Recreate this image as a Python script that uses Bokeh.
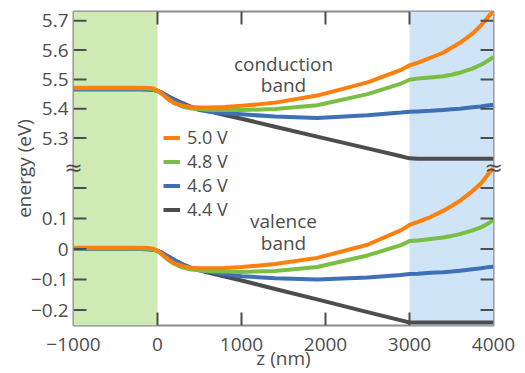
from bokeh.plotting import figure
from bokeh.models import (Range1d, FixedTicker, Legend, LegendItem, BoxAnnotation, Label,
                          LinearAxis)
from bokeh.embed import file_html
from bokeh.resources import INLINE

# ---------------- data ----------------
z_nm = [-1000, -200, -100, -50, 0, 50, 100, 150, 200, 300, 400, 500, 600, 800,
        1000, 1400, 1900, 2500, 2900, 3000, 3100, 3250, 3400, 3500, 3600, 3750, 3850, 3900, 3950, 4000]

voltages = ["5.0 V", "4.8 V", "4.6 V", "4.4 V"]

# conduction band (eV)
cb_50 = [5.472, 5.472, 5.471, 5.469, 5.462, 5.452, 5.440, 5.429, 5.420, 5.410, 5.406, 5.404, 5.404, 5.406,
         5.410, 5.421, 5.445, 5.490, 5.533, 5.548, 5.557, 5.574, 5.591, 5.608, 5.625, 5.656, 5.684, 5.700, 5.718, 5.732]
cb_48 = [5.470, 5.470, 5.469, 5.467, 5.461, 5.451, 5.439, 5.428, 5.419, 5.407, 5.401, 5.399, 5.397, 5.396,
         5.396, 5.399, 5.412, 5.450, 5.486, 5.499, 5.503, 5.507, 5.511, 5.516, 5.523, 5.537, 5.550, 5.558, 5.567, 5.576]
cb_46 = [5.467, 5.467, 5.466, 5.465, 5.461, 5.455, 5.447, 5.438, 5.430, 5.416, 5.404, 5.396, 5.391, 5.385,
         5.381, 5.374, 5.369, 5.378, 5.387, 5.390, 5.391, 5.393, 5.396, 5.398, 5.400, 5.405, 5.408, 5.410, 5.412, 5.414]
cb_44 = [5.467, 5.467, 5.466, 5.465, 5.461, 5.455, 5.447, 5.439, 5.432, 5.419, 5.407, 5.399, 5.392, 5.379,
         5.366, 5.339, 5.305, 5.265, 5.238, 5.231, 5.230, 5.230, 5.230, 5.230, 5.230, 5.230, 5.230, 5.230, 5.230, 5.230]

# valence band (eV)
vb_50 = [0.004, 0.004, 0.003, 0.001, -0.006, -0.016, -0.028, -0.038, -0.046, -0.056, -0.061, -0.063, -0.063, -0.062,
         -0.059, -0.049, -0.029, 0.014, 0.062, 0.079, 0.089, 0.105, 0.125, 0.141, 0.158, 0.190, 0.215, 0.232, 0.251, 0.264]
vb_48 = [0.002, 0.002, 0.001, -0.001, -0.007, -0.017, -0.029, -0.040, -0.049, -0.061, -0.067, -0.070, -0.072, -0.074,
         -0.075, -0.072, -0.059, -0.021, 0.013, 0.026, 0.028, 0.033, 0.038, 0.043, 0.049, 0.061, 0.071, 0.078, 0.086, 0.096]
vb_46 = [0.000, 0.000, -0.001, -0.002, -0.006, -0.012, -0.020, -0.029, -0.037, -0.051, -0.062, -0.069, -0.074, -0.083,
         -0.089, -0.096, -0.100, -0.093, -0.085, -0.082, -0.081, -0.078, -0.076, -0.074, -0.071, -0.066, -0.063, -0.061, -0.059, -0.058]
vb_44 = [0.000, 0.000, -0.001, -0.002, -0.006, -0.012, -0.020, -0.028, -0.036, -0.050, -0.062, -0.070, -0.077, -0.090,
         -0.103, -0.131, -0.165, -0.207, -0.234, -0.241, -0.241, -0.241, -0.241, -0.241, -0.241, -0.241, -0.241, -0.241, -0.241, -0.241]

x_ticks = [-1000, 0, 1000, 2000, 3000, 4000]
x_tick_labels = ["\u22121000", "0", "1000", "2000", "3000", "4000"]
vb_ticks = [-0.2, -0.1, 0.0, 0.1, 0.2]
vb_tick_labels = ["\u22120.2", "\u22120.1", "0", "0.1", ""]
cb_ticks = [5.3, 5.4, 5.5, 5.6, 5.7]
cb_tick_labels = ["5.3", "5.4", "5.5", "5.6", "5.7"]

region_left = [-1000, 3000]
region_right = [0, 4000]

# ---------------- style / layout ----------------
FONT = "Open Sans"
TXT = "#4d4d4d"
FRAME = "#8c8c8c"
colors = ["#ff7f0e", "#7abf43", "#3f6fb5", "#4d4d4d"]
region_colors = ["#d0eab5", "#cfe4f7"]

W, H = 525, 373
BL, BR, BT, BB = 73, 32, 11, 47
FRAME_W, FRAME_H = W - BL - BR, H - BT - BB
TICK_PX = 13

X_RANGE = (-1000, 4000)
Y_VB = (-0.2507, 0.7788)
Y_CB = (4.6613, 5.7316)
BREAK_VB = 0.268

tick_dx = TICK_PX * (X_RANGE[1] - X_RANGE[0]) / FRAME_W
tick_dy_vb = TICK_PX * (Y_VB[1] - Y_VB[0]) / FRAME_H


def cb_to_vb(v):
    return Y_VB[0] + (v - Y_CB[0]) / (Y_CB[1] - Y_CB[0]) * (Y_VB[1] - Y_VB[0])


p = figure(width=W, height=H, x_range=Range1d(*X_RANGE), y_range=Range1d(*Y_VB),
           output_backend="svg", toolbar_location=None,
           min_border_left=BL, min_border_right=BR, min_border_top=BT, min_border_bottom=BB)
p.extra_y_ranges = {"cb": Range1d(*Y_CB)}
p.grid.visible = False
p.outline_line_color = FRAME
p.outline_line_width = 2
p.background_fill_color = "white"
p.border_fill_color = "white"

for l, r, c in zip(region_left, region_right, region_colors):
    p.add_layout(BoxAnnotation(left=l, right=r, fill_color=c, fill_alpha=1.0,
                               line_alpha=0, level="underlay"))

cb_series = [cb_50, cb_48, cb_46, cb_44]
vb_series = [vb_50, vb_48, vb_46, vb_44]
renderers = {}
for i in [3, 2, 1, 0]:
    r1 = p.line(z_nm, cb_series[i], line_color=colors[i], line_width=4, line_join="round",
                y_range_name="cb")
    p.line(z_nm, vb_series[i], line_color=colors[i], line_width=4, line_join="round")
    renderers[i] = r1

# inward tick marks on all four sides (each starts inside the frame, ends on the edge)
TK = dict(line_color=TXT, line_width=2)
inner_x = x_ticks[1:-1]
n = len(inner_x)
p.segment(x0=inner_x, y0=[Y_VB[0] + tick_dy_vb] * n, x1=inner_x, y1=[Y_VB[0]] * n, **TK)
p.segment(x0=inner_x, y0=[Y_VB[1] - tick_dy_vb] * n, x1=inner_x, y1=[Y_VB[1]] * n, **TK)
for xe, sgn in [(X_RANGE[0], 1), (X_RANGE[1], -1)]:
    p.segment(x0=[xe + sgn * tick_dx] * len(vb_ticks), y0=vb_ticks, x1=[xe] * len(vb_ticks), y1=vb_ticks, **TK)
    p.segment(x0=[xe + sgn * tick_dx] * len(cb_ticks), y0=cb_ticks, x1=[xe] * len(cb_ticks), y1=cb_ticks,
              y_range_name="cb", **TK)

# y tick labels (both bands on one axis)
y_tick_pos = list(vb_ticks) + [round(cb_to_vb(v), 6) for v in cb_ticks]
y_overrides = {}
for t, s in zip(y_tick_pos, vb_tick_labels + cb_tick_labels):
    y_overrides[t] = s


def style_axis(ax):
    ax.axis_line_color = None
    ax.major_tick_line_color = None
    ax.major_tick_in = 0
    ax.major_tick_out = 0
    ax.minor_tick_line_color = None
    ax.major_label_text_font = FONT
    ax.major_label_text_font_size = "19px"
    ax.major_label_text_color = TXT
    ax.axis_label_text_font = FONT
    ax.axis_label_text_font_size = "19px"
    ax.axis_label_text_font_style = "normal"
    ax.axis_label_text_color = TXT


yl = p.yaxis[0]
style_axis(yl)
yl.ticker = FixedTicker(ticks=y_tick_pos)
yl.major_label_overrides = y_overrides
yl.major_label_standoff = 5
yl.axis_label = "energy (eV)"
yl.axis_label_standoff = -9

xb = p.xaxis[0]
style_axis(xb)
xb.ticker = FixedTicker(ticks=x_ticks)
xb.major_label_overrides = dict(zip(x_ticks, x_tick_labels))
xb.major_label_standoff = 12
xb.axis_label = "z (nm)"
xb.axis_label_standoff = -9

# break marks: right one as a right-axis label straddling the frame edge,
# left one as a label placed in the right panel (side panels are not clipped)
br_ax = LinearAxis(ticker=FixedTicker(ticks=[BREAK_VB]), major_label_overrides={BREAK_VB: "\u2248"})
style_axis(br_ax)
br_ax.major_label_text_font = "DejaVu Sans"
br_ax.major_label_text_font_size = "22px"
br_ax.major_label_standoff = -9
p.add_layout(br_ax, "right")
p.add_layout(Label(x=X_RANGE[0], y=BREAK_VB, text="\u2248", text_align="center",
                   text_baseline="middle", text_font="DejaVu Sans", text_font_size="22px",
                   text_color=TXT), "right")

# band annotations
for txt, yv, rng in [("conduction", 5.554, "cb"), ("band", 5.480, "cb"),
                     ("valence", 0.0915, "default"), ("band", 0.0196, "default")]:
    p.add_layout(Label(x=1500, y=yv, y_range_name=rng, text=txt, text_align="center",
                       text_baseline="middle", text_font=FONT, text_font_size="19px",
                       text_color=TXT))

legend = Legend(items=[LegendItem(label=voltages[i], renderers=[renderers[i]]) for i in range(4)],
                location=(90, 104))
legend.background_fill_alpha = 0
legend.border_line_color = None
legend.padding = 0
legend.margin = 0
legend.spacing = -1
legend.glyph_width = 17
legend.glyph_height = 23
legend.label_height = 23
legend.label_standoff = 7
legend.label_text_font = FONT
legend.label_text_font_size = "18px"
legend.label_text_color = TXT
p.add_layout(legend)

open("out.html", "w").write(file_html(p, INLINE))
